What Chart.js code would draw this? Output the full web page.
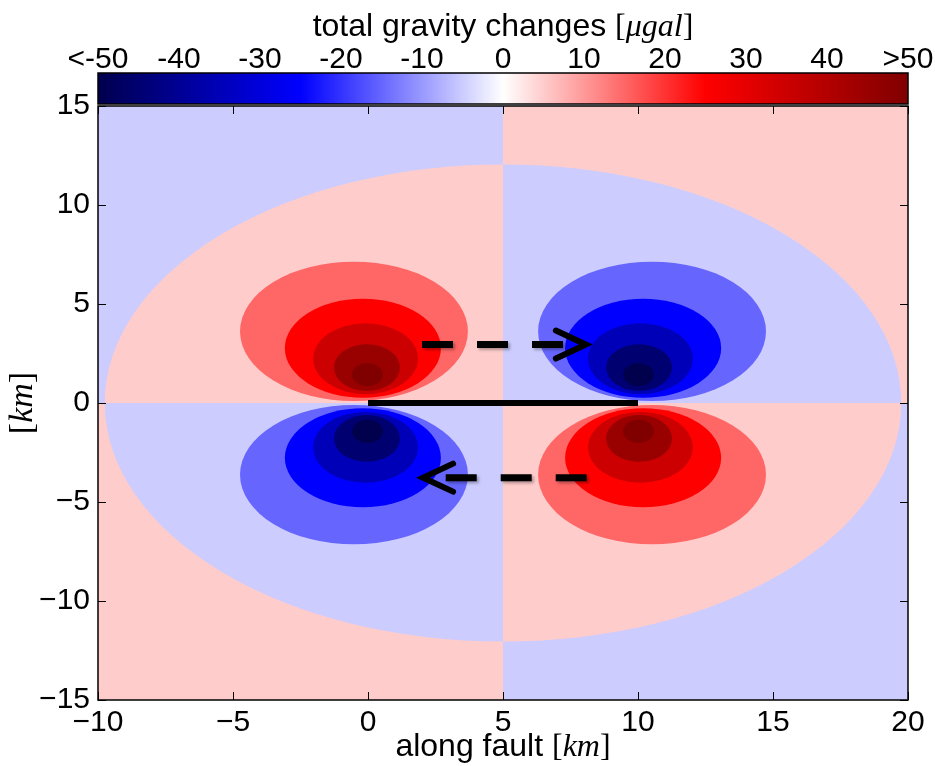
<!DOCTYPE html>
<html>
<head>
<meta charset="utf-8">
<script src="https://cdn.jsdelivr.net/npm/chart.js@4.4.1/dist/chart.umd.min.js"></script>
<style>
  html, body { margin: 0; padding: 0; background: #fff; }
</style>
</head>
<body>
<canvas id="mycanvas" width="935" height="766"></canvas>
<script>
// ---- axes ----
var xTicks = [-10, -5, 0, 5, 10, 15, 20];
var xTickLabels = ['\u221210', '\u22125', '0', '5', '10', '15', '20'];
var yTicks = [-15, -10, -5, 0, 5, 10, 15];
var yTickLabels = ['\u221215', '\u221210', '\u22125', '0', '5', '10', '15'];

// ---- colorbar (micro gal) ----
var cbTicks = [-50, -40, -30, -20, -10, 0, 10, 20, 30, 40, 50];
var cbTickLabels = ['<-50', '-40', '-30', '-20', '-10', '0', '10', '20', '30', '40', '>50'];

// ---- fault trace (km) ----
var faultX = [0, 10];
var faultY = [0, 0];

// ---- slip arrows (km) ----
var arrowTailX = [2.0, 8.1];
var arrowTipX = [8.07, 2.04];
var arrowY = [2.95, -3.77];

// ---- background quadrants, value outside / inside the big ellipse ----
var quadXMin = [-10, 5, -10, 5];
var quadXMax = [5, 20, 5, 20];
var quadYMin = [0, 0, -15, -15];
var quadYMax = [15, 15, 0, 0];
var quadOuter = [-5, 5, 5, -5];
var quadInner = [5, -5, -5, 5];
var ringCenterX = 5, ringCenterY = 0;
var ringRadiusX = 14.75, ringRadiusY = 12.05;

// ---- lobes at the fault tips ----
var lobeTipX = [0, 10, 0, 10];
var lobeSide = [1, 1, -1, -1];
var lobeSign = [1, -1, -1, 1];
// contour bands of one lobe (outer -> inner), km
var bandLevel = [15, 25, 35, 45, 55];
var bandShiftX = [0.52, 0.19, 0.09, 0.04, 0.02];
var bandCenterY = [3.62, 2.77, 2.24, 1.79, 1.43];
var bandRadiusX = [4.22, 2.89, 1.94, 1.22, 0.57];
var bandRadiusY = [3.52, 2.5, 1.79, 1.18, 0.58];

var FONT = "'Liberation Sans', Arial, sans-serif";
var SERIF = "'Liberation Serif', 'Times New Roman', serif";

function seismic(t) {
    var stops = [[0, 0, 0, 77], [0.25, 0, 0, 255], [0.5, 255, 255, 255], [0.75, 255, 0, 0], [1, 128, 0, 0]];
    t = Math.max(0, Math.min(1, t));
    for (var i = 1; i < stops.length; i++) {
        if (t <= stops[i][0]) {
            var a = stops[i - 1], b = stops[i];
            var f = (t - a[0]) / (b[0] - a[0]);
            var c = [1, 2, 3].map(function (j) { return Math.round(a[j] + (b[j] - a[j]) * f); });
            return 'rgb(' + c.join(',') + ')';
        }
    }
    return 'rgb(128,0,0)';
}
function valueColor(v) { return seismic((v + 50) / 100); }

function ellipseKm(ctx, xs, ys, cx, cy, rx, ry) {
    var px = xs.getPixelForValue(cx), py = ys.getPixelForValue(cy);
    var prx = Math.abs(xs.getPixelForValue(cx + rx) - px);
    var pry = Math.abs(ys.getPixelForValue(cy + ry) - py);
    ctx.beginPath();
    ctx.ellipse(px, py, prx, pry, 0, 0, Math.PI * 2);
}

// text made of pieces with their own fonts
function mixedText(ctx, parts, x, y) {
    var w = 0;
    parts.forEach(function (p) { ctx.font = p[1]; w += ctx.measureText(p[0]).width; });
    var cx = x - w / 2;
    parts.forEach(function (p) {
        ctx.font = p[1];
        ctx.fillText(p[0], cx, y);
        cx += ctx.measureText(p[0]).width;
    });
}

var fieldPlugin = {
    id: 'field',
    beforeDatasetsDraw: function (chart) {
        var ctx = chart.ctx, a = chart.chartArea, xs = chart.scales.x, ys = chart.scales.y;
        ctx.save();
        ctx.beginPath();
        ctx.rect(a.left, a.top, a.width, a.height);
        ctx.clip();
        for (var q = 0; q < quadOuter.length; q++) {
            var x0 = xs.getPixelForValue(quadXMin[q]), x1 = xs.getPixelForValue(quadXMax[q]);
            var y0 = ys.getPixelForValue(quadYMax[q]), y1 = ys.getPixelForValue(quadYMin[q]);
            ctx.save();
            ctx.beginPath();
            ctx.rect(x0, y0, x1 - x0, y1 - y0);
            ctx.clip();
            ctx.fillStyle = valueColor(quadOuter[q]);
            ctx.fillRect(x0, y0, x1 - x0, y1 - y0);
            ctx.fillStyle = valueColor(quadInner[q]);
            ellipseKm(ctx, xs, ys, ringCenterX, ringCenterY, ringRadiusX, ringRadiusY);
            ctx.fill();
            ctx.restore();
        }
        var yMid = ys.getPixelForValue(0);
        for (var k = 0; k < lobeTipX.length; k++) {
            ctx.save();
            ctx.beginPath();
            if (lobeSide[k] > 0) ctx.rect(a.left, a.top, a.width, yMid - a.top);
            else ctx.rect(a.left, yMid, a.width, a.bottom - yMid);
            ctx.clip();
            var dir = lobeTipX[k] < ringCenterX ? -1 : 1;
            for (var b = 0; b < bandLevel.length; b++) {
                ctx.fillStyle = valueColor(lobeSign[k] * bandLevel[b]);
                ellipseKm(ctx, xs, ys, lobeTipX[k] + dir * bandShiftX[b], lobeSide[k] * bandCenterY[b],
                    bandRadiusX[b], bandRadiusY[b]);
                ctx.fill();
            }
            ctx.restore();
        }
        ctx.restore();
    },
    beforeDatasetDraw: function (chart, args) {
        if (args.index > 0) {
            var ctx = chart.ctx;
            ctx.save();
            ctx.shadowColor = 'rgba(0,0,0,0.3)';
            ctx.shadowBlur = 3;
            ctx.shadowOffsetX = 2;
            ctx.shadowOffsetY = 2;
        }
    },
    afterDatasetDraw: function (chart, args) {
        if (args.index > 0) chart.ctx.restore();
    },
    afterDatasetsDraw: function (chart) {
        var ctx = chart.ctx, xs = chart.scales.x, ys = chart.scales.y;
        ctx.save();
        ctx.strokeStyle = '#000';
        ctx.lineWidth = 6;
        ctx.lineCap = 'round';
        ctx.lineJoin = 'miter';
        for (var i = 0; i < arrowTipX.length; i++) {
            var tx = xs.getPixelForValue(arrowTipX[i]), ty = ys.getPixelForValue(arrowY[i]);
            var d = arrowTipX[i] > arrowTailX[i] ? 1 : -1;
            ctx.beginPath();
            ctx.moveTo(tx - d * 30, ty - 14);
            ctx.lineTo(tx, ty);
            ctx.lineTo(tx - d * 30, ty + 14);
            ctx.stroke();
        }
        ctx.restore();
    },
    afterDraw: function (chart) {
        var ctx = chart.ctx, a = chart.chartArea, xs = chart.scales.x, ys = chart.scales.y;
        ctx.save();
        // inward ticks on all sides
        ctx.strokeStyle = '#000';
        ctx.lineWidth = 1;
        ctx.beginPath();
        xTicks.forEach(function (v) {
            var px = Math.round(xs.getPixelForValue(v)) + 0.5;
            ctx.moveTo(px, a.bottom); ctx.lineTo(px, a.bottom - 8);
            ctx.moveTo(px, a.top); ctx.lineTo(px, a.top + 8);
        });
        yTicks.forEach(function (v) {
            var py = Math.round(ys.getPixelForValue(v)) + 0.5;
            ctx.moveTo(a.left, py); ctx.lineTo(a.left + 8, py);
            ctx.moveTo(a.right, py); ctx.lineTo(a.right - 8, py);
        });
        ctx.stroke();
        // frame
        ctx.lineWidth = 1.5;
        ctx.strokeRect(a.left, a.top, a.width, a.height);

        // colorbar
        var cbTop = 73, cbBottom = 104;
        var g = ctx.createLinearGradient(a.left, 0, a.right, 0);
        for (var s = 0; s <= 20; s++) g.addColorStop(s / 20, seismic(s / 20));
        ctx.fillStyle = g;
        ctx.fillRect(a.left, cbTop, a.width, cbBottom - cbTop);
        ctx.strokeRect(a.left, cbTop, a.width, cbBottom - cbTop);
        ctx.fillStyle = '#000';
        ctx.textAlign = 'center';
        ctx.textBaseline = 'alphabetic';
        ctx.font = '30px ' + FONT;
        var lo = cbTicks[0], hi = cbTicks[cbTicks.length - 1];
        cbTicks.forEach(function (v, i) {
            var px = a.left + (v - lo) / (hi - lo) * a.width;
            ctx.fillText(cbTickLabels[i], px, 68);
        });

        // titles
        ctx.textAlign = 'left';
        mixedText(ctx, [['total gravity changes ', '32px ' + FONT], ['[', '32px ' + SERIF],
            ['\u03bcgal', 'italic 32px ' + SERIF], [']', '32px ' + SERIF]], (a.left + a.right) / 2, 36);
        mixedText(ctx, [['along fault ', '32px ' + FONT], ['[', '32px ' + SERIF],
            ['km', 'italic 32px ' + SERIF], [']', '32px ' + SERIF]], (a.left + a.right) / 2, 756);
        ctx.save();
        ctx.translate(32, (a.top + a.bottom) / 2);
        ctx.rotate(-Math.PI / 2);
        mixedText(ctx, [['[', '34px ' + SERIF], ['km', 'italic 34px ' + SERIF], [']', '34px ' + SERIF]], 0, 0);
        ctx.restore();
        ctx.restore();
    }
};

function pts(xa, ya) {
    return xa.map(function (x, i) { return { x: x, y: ya[i] }; });
}

var datasets = [{
    data: pts(faultX, faultY),
    showLine: true, borderColor: '#000', borderWidth: 6, borderCapStyle: 'butt',
    pointRadius: 0, fill: false
}];
for (var i = 0; i < arrowTipX.length; i++) {
    datasets.push({
        data: pts([arrowTailX[i], arrowTipX[i]], [arrowY[i], arrowY[i]]),
        showLine: true, borderColor: '#000', borderWidth: 7, borderDash: [31, 24],
        borderCapStyle: 'butt', pointRadius: 0, fill: false
    });
}

var ctx = document.getElementById('mycanvas');
var chart = new Chart(ctx, {
    type: 'scatter',
    data: { datasets: datasets },
    options: {
        responsive: false,
        animation: false,
        devicePixelRatio: 1,
        layout: { padding: { left: 0, top: 106, right: 27, bottom: 0 } },
        plugins: { legend: { display: false }, tooltip: { enabled: false } },
        scales: {
            x: {
                type: 'linear', min: -10, max: 20,
                grid: { display: false, drawTicks: false }, border: { display: false },
                ticks: {
                    stepSize: 5, color: '#000', padding: 5, maxRotation: 0, autoSkip: false,
                    font: { family: FONT, size: 30 },
                    callback: function (v) { var k = xTicks.indexOf(v); return k < 0 ? '' : xTickLabels[k]; }
                },
                afterFit: function (s) { s.height = 66; }
            },
            y: {
                type: 'linear', min: -15, max: 15,
                grid: { display: false, drawTicks: false }, border: { display: false },
                ticks: {
                    stepSize: 5, color: '#000', padding: 8, autoSkip: false,
                    font: { family: FONT, size: 30 },
                    callback: function (v) { var k = yTicks.indexOf(v); return k < 0 ? '' : yTickLabels[k]; }
                },
                afterFit: function (s) { s.width = 98; }
            }
        }
    },
    plugins: [fieldPlugin]
});
</script>
</body>
</html>
